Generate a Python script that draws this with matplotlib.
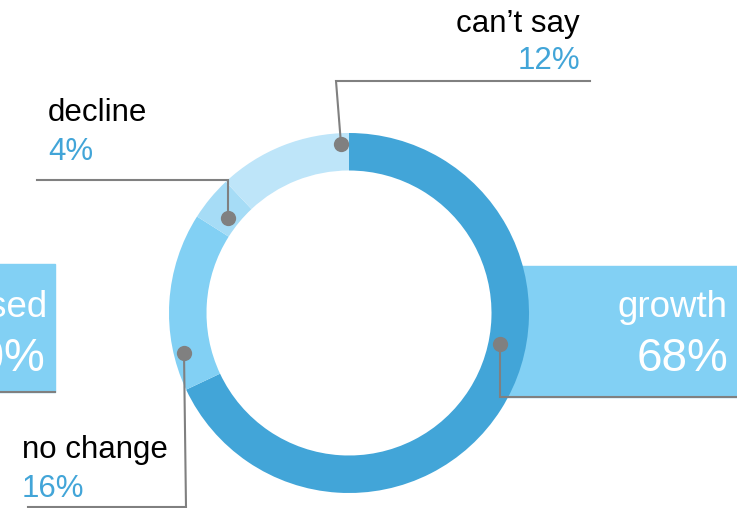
import matplotlib
matplotlib.use("Agg")
import matplotlib.pyplot as plt
from matplotlib.patches import Rectangle

plt.rcParams['font.family'] = ['Liberation Sans', 'DejaVu Sans']

# data
categories = ["growth", "no change", "decline", "can\u2019t say"]
shares = [68, 16, 4, 12]
colors = ["#42a5d8", "#82d0f4", "#a6dcf6", "#bee5f9"]
side_label = "decreased"
side_value = "10%"

W, H = 737, 508
fig = plt.figure(figsize=(W / 100, H / 100), dpi=100)
ax = fig.add_axes([0, 0, 1, 1])

grey = "#808080"
blue_txt = "#42a5d8"
box_col = "#82d0f4"

# boxes behind the ring (growth on the right, cut-off one on the left)
ax.add_patch(Rectangle((500, 266), 260, 131, color=box_col, zorder=0))
ax.add_patch(Rectangle((-10, 264), 65, 128, color=box_col, zorder=0))
ax.plot([0, 55], [392, 392], color=grey, lw=1.5, zorder=1)

# donut: y axis is inverted, so counterclock=True draws clockwise on screen
cx, cy, R = 349, 313, 180
ax.pie(shares, colors=colors, startangle=-90, counterclock=True,
       center=(cx, cy), radius=R,
       wedgeprops=dict(width=37.5, linewidth=0, edgecolor="none"))

# leader lines: dot position, elbow, end
leaders = {
    "growth": [(500, 344), (500, 397), (740, 397)],
    "no change": [(184, 353), (186, 507), (28, 507)],
    "decline": [(228, 218), (228, 180), (37, 180)],
    "can\u2019t say": [(341, 144), (336, 81), (590, 81)],
}
for name in categories:
    pts = leaders[name]
    ax.plot([p[0] for p in pts], [p[1] for p in pts], color=grey, lw=1.5,
            zorder=3, solid_joinstyle="miter")
    ax.plot(pts[0][0], pts[0][1], "o", ms=11, color=grey, mec="none", zorder=4)

# label text: (x, name baseline, value baseline, alignment)
label_pos = {
    "no change": (22, 458, 497, "left"),
    "decline": (48, 121, 160, "left"),
    "can\u2019t say": (580, 32, 69, "right"),
}
for name, val in zip(categories, shares):
    if name not in label_pos:
        continue
    x, y1, y2, ha = label_pos[name]
    ax.text(x, y1, name, fontsize=22.5, color="black", ha=ha, va="baseline")
    ax.text(x, y2, f"{val}%", fontsize=22.5, color=blue_txt, ha=ha, va="baseline")

# big labels in boxes
ax.text(728, 317, categories[0], fontsize=26.5, color="white", ha="right", va="baseline")
ax.text(728, 371, f"{shares[0]}%", fontsize=33, color="white", ha="right", va="baseline")
ax.text(48, 317, side_label, fontsize=26.5, color="white", ha="right", va="baseline")
ax.text(45, 371, side_value, fontsize=33, color="white", ha="right", va="baseline")

ax.set_xlim(0, W)
ax.set_ylim(H, 0)
ax.set_aspect("equal")
ax.axis("off")

fig.savefig("out.png", dpi=100)
